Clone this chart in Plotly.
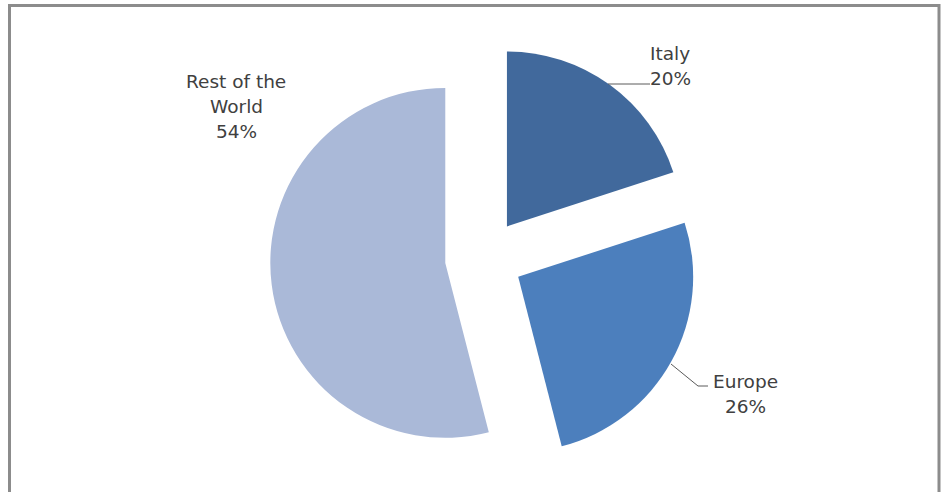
import plotly.graph_objects as go

# Market share by region
regions = ["Italy", "Europe", "Rest of the World"]
shares = [20, 26, 54]
label_lines = [["Italy"], ["Europe"], ["Rest of the", "World"]]
colors = ["#41699C", "#4C7FBD", "#AAB9D8"]

W, H = 944, 492

fig = go.Figure()

fig.add_trace(go.Pie(
    labels=regions,
    values=shares,
    sort=False,
    direction="clockwise",
    rotation=0,
    pull=[0.223, 0.223, 0.223],
    marker=dict(colors=colors, line=dict(width=0)),
    textinfo="none",
    hoverinfo="label+percent",
    showlegend=False,
    domain=dict(x=[270 / W, 698 / W], y=[(H - 472) / H, (H - 44) / H]),
))

# Pixel-space helper axes for labels and frame
fig.update_xaxes(range=[0, W], visible=False, fixedrange=True)
fig.update_yaxes(range=[H, 0], visible=False, fixedrange=True)

label_font = dict(family="'DejaVu Sans', sans-serif", size=18.5, color="#404040")
line_gap = 25

# Label anchors (centre x, first-line centre y) for each region
label_pos = {"Italy": (670, 53), "Europe": (745, 381), "Rest of the World": (236, 81)}
for name, share, lines in zip(regions, shares, label_lines):
    cx, y0 = label_pos[name]
    for i, line in enumerate(lines + [f"{share}%"]):
        fig.add_annotation(
            x=cx, y=y0 + i * line_gap, xref="x", yref="y", text=line,
            showarrow=False, xanchor="center", yanchor="middle", font=label_font,
        )

# Leader lines
leader = dict(color="#5a5a5a", width=1)
fig.add_shape(type="path", path="M 608 84 L 650 84", xref="x", yref="y", line=leader)
fig.add_shape(type="path", path="M 671 364 L 698 386 L 708 386", xref="x", yref="y", line=leader)

# Chart frame (open at the bottom)
fig.add_shape(type="path", path="M 9.5 500 L 9.5 5.5 L 939 5.5 L 939 500",
              xref="x", yref="y", line=dict(color="#8c8c8c", width=3))

fig.update_layout(
    width=W, height=H,
    margin=dict(l=0, r=0, t=0, b=0),
    paper_bgcolor="white",
    plot_bgcolor="white",
)

fig.write_html("out.html")
